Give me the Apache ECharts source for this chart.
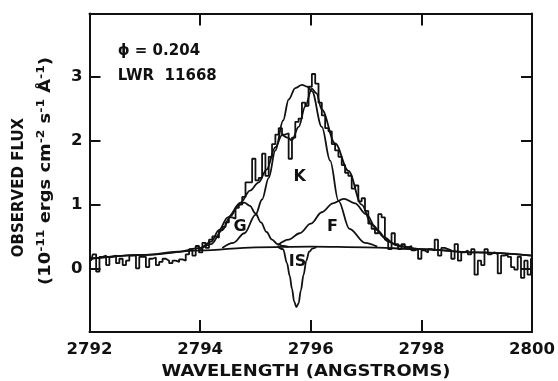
<!DOCTYPE html>
<html><head><meta charset="utf-8">
<script src="https://cdn.jsdelivr.net/npm/echarts@6/dist/echarts.min.js"></script>
<style>html,body{margin:0;padding:0;background:#fff}#c{width:558px;height:381px}</style>
</head><body><div id="c"></div>
<script>
// ---- data ----
const xTicks = [2792, 2794, 2796, 2798, 2800];
const yTicks = [0, 1, 2, 3];
const histStart = 2792.0, histWidth = 0.06;
const histFlux = [
 0.12,0.22,-0.05,0.18,0.2,0.05,0.18,0.2,0.08,0.15,
 0.05,0.12,0.2,0.2,0.0,0.18,0.18,0.02,0.15,0.17,
 0.05,0.1,0.15,0.12,0.08,0.12,0.1,0.14,0.12,0.22,
 0.3,0.2,0.35,0.25,0.4,0.32,0.45,0.5,0.48,0.6,
 0.65,0.72,0.8,0.78,0.95,1.0,1.12,1.35,1.35,1.72,
 1.38,1.42,1.8,1.45,1.75,1.95,2.1,2.2,2.1,2.12,
 1.72,2.05,2.3,2.35,2.6,2.55,2.85,3.05,2.9,2.6,
 2.4,2.2,2.15,1.95,1.85,1.75,1.62,1.5,1.45,1.25,
 1.3,1.05,1.1,0.9,0.7,0.62,0.55,0.85,0.8,0.45,
 0.3,0.55,0.38,0.3,0.38,0.33,0.35,0.28,0.3,0.15,
 0.28,0.25,0.3,0.28,0.45,0.2,0.32,0.3,0.28,0.15,
 0.38,0.12,0.25,0.28,0.22,0.3,-0.1,0.12,0.05,0.3,
 0.22,0.25,0.22,-0.08,0.2,0.22,0.18,0.02,-0.02,0.18,
 -0.15,0.12,-0.1,0.15
];
const contLam  = [2792, 2793, 2794, 2795, 2796, 2797, 2798, 2799, 2800];
const contFlux = [0.15, 0.21, 0.28, 0.33, 0.34, 0.33, 0.30, 0.25, 0.20];
const gLam  = [2794.0,2794.2,2794.4,2794.55,2794.7,2794.8,2794.9,2795.0,2795.1,2795.2,2795.3,2795.4,2795.5,2795.6];
const gFlux = [0.29, 0.38, 0.60, 0.82, 1.00, 1.03, 0.98, 0.86, 0.72, 0.57, 0.45, 0.38, 0.35, 0.335];
const kLam  = [2794.4,2794.6,2794.8,2795.0,2795.12,2795.24,2795.36,2795.5,2795.6,2795.72,2795.84,2795.94,2796.02,2796.2,2796.35,2796.5,2796.7,2796.98,2797.2];
const kFlux = [0.32, 0.40, 0.55, 0.84, 1.08, 1.42, 1.85, 2.32, 2.65, 2.83, 2.88, 2.85, 2.78, 2.22, 1.69, 1.06, 0.62, 0.40, 0.34];
const fLam  = [2795.4,2795.6,2795.8,2796.0,2796.2,2796.4,2796.6,2796.8,2797.0,2797.2,2797.4,2797.6,2797.8];
const fFlux = [0.36, 0.45, 0.55, 0.70, 0.88, 1.02, 1.09, 1.02, 0.85, 0.60, 0.42, 0.35, 0.32];
const isLam  = [2795.4,2795.5,2795.57,2795.62,2795.66,2795.7,2795.74,2795.78,2795.82,2795.87,2795.92,2795.97,2796.03,2796.1];
const isFlux = [0.34, 0.30, 0.08, -0.12, -0.32, -0.52, -0.61, -0.55, -0.35, -0.10, 0.12, 0.26, 0.31, 0.33];
const totLam  = [2792.0,2793.0,2793.6,2794.0,2794.2,2794.34,2794.5,2794.73,2794.9,2795.06,2795.2,2795.36,2795.48,2795.58,2795.66,2795.78,2795.9,2796.02,2796.1,2796.2,2796.44,2796.68,2796.92,2797.1,2797.34,2797.52,2797.8,2798.0,2799.0,2800.0];
const totFlux = [0.15, 0.21, 0.26, 0.32, 0.42, 0.60, 0.80, 1.03, 1.22, 1.35, 1.55, 1.90, 2.09, 2.05, 2.01, 2.22, 2.54, 2.82, 2.75, 2.49, 1.96, 1.53, 1.00, 0.69, 0.48, 0.37, 0.32, 0.30, 0.25, 0.20];
const compLabels = [
  {text: 'K', lam: 2795.8, flux: 1.44},
  {text: 'G', lam: 2794.72, flux: 0.65},
  {text: 'F', lam: 2796.39, flux: 0.65},
  {text: 'IS', lam: 2795.76, flux: 0.1}
];
const insetLines = [
  {text: 'ϕ = 0.204', lam: 2792.5, flux: 3.41},
  {text: 'LWR  11668', lam: 2792.5, flux: 3.01}
];
// ---- chart ----
const FONT = 'DejaVu Sans';
const INK = '#111';
const zip = (a, b) => a.map((v, i) => [v, b[i]]);
const histData = histFlux.map((v, i) => [histStart + histWidth * (i + 0.5), v]);
const curve = (data) => ({type: 'line', data, smooth: 0.35, smoothMonotone: 'x', showSymbol: false, symbol: 'none',
  lineStyle: {color: INK, width: 1.8}, z: 3, silent: true});
const chart = echarts.init(document.getElementById('c'), null, {renderer: 'canvas'});
const axisCommon = {min: 2792, max: 2800, interval: 2, splitLine: {show: false},
  axisLine: {onZero: false, lineStyle: {color: INK, width: 2}}, axisTick: {inside: true, length: 12, lineStyle: {color: INK, width: 2}}};
const yCommon = {type: 'value', min: -1, max: 4, interval: 1, splitLine: {show: false},
  axisLine: {onZero: false, lineStyle: {color: INK, width: 2}}, axisTick: {inside: true, length: 11, lineStyle: {color: INK, width: 2}}};
const labelStyle = {fontFamily: FONT, fontSize: 16, fontWeight: 'bold', color: INK, opacity: 1};
chart.setOption({
  animation: false,
  grid: {left: 89.5, right: 21.5, top: 13.5, bottom: 49, containLabel: false},
  xAxis: [
    Object.assign({type: 'value', position: 'bottom',
      axisLabel: {fontFamily: FONT, fontSize: 16.5, fontWeight: 'bold', color: INK, margin: 9, formatter: v => xTicks.includes(v) ? String(v) : ''}}, axisCommon),
    Object.assign({type: 'value', position: 'top', axisLabel: {show: false}}, axisCommon)
  ],
  yAxis: [
    Object.assign({position: 'left',
      axisLabel: {fontFamily: FONT, fontSize: 16.5, fontWeight: 'bold', color: INK, margin: 7, formatter: v => yTicks.includes(v) ? String(v) : ''}}, yCommon),
    Object.assign({position: 'right', axisLabel: {show: false}}, yCommon)
  ],
  series: [
    {type: 'line', data: histData, step: 'middle', showSymbol: false, symbol: 'none',
     lineStyle: {color: INK, width: 1.8}, z: 2, silent: true},
    curve(zip(contLam, contFlux)),
    curve(zip(gLam, gFlux)),
    curve(zip(kLam, kFlux)),
    curve(zip(fLam, fFlux)),
    curve(zip(isLam, isFlux)),
    curve(zip(totLam, totFlux)),
    {type: 'scatter', symbolSize: 1, silent: true, z: 5, itemStyle: {opacity: 0},
     data: compLabels.map(d => ({value: [d.lam, d.flux], label: Object.assign({show: true, position: 'inside', formatter: d.text}, labelStyle)}))},
    {type: 'scatter', symbolSize: 1, silent: true, z: 5, itemStyle: {opacity: 0},
     data: insetLines.map(d => ({value: [d.lam, d.flux], label: Object.assign({show: true, position: 'right', distance: 0, formatter: d.text}, labelStyle, {fontSize: 15})}))}
  ],
  graphic: [
    {type: 'text', x: 306, y: 372, scaleX: 1.12,
     style: {text: 'WAVELENGTH (ANGSTROMS)', font: 'bold 16px "DejaVu Sans"', fill: INK, align: 'center', verticalAlign: 'middle'}},
    {type: 'text', x: 19.5, y: 187.5, rotation: Math.PI / 2,
     style: {text: 'OBSERVED FLUX', font: 'bold 15px "DejaVu Sans"', fill: INK, align: 'center', verticalAlign: 'middle'}},
    {type: 'text', x: 46, y: 171, rotation: Math.PI / 2, scaleX: 1.12,
     style: {text: '(10{s|-11} ergs cm{s|-2} s{s|-1} Å{s|-1})', fill: INK, align: 'center', verticalAlign: 'middle',
       fontFamily: FONT, fontSize: 16, fontWeight: 'bold',
       rich: {s: {fontFamily: FONT, fontSize: 11, fontWeight: 'bold', fill: INK, padding: [0, 0, 9, 0]}}}}
  ]
});
</script></body></html>
